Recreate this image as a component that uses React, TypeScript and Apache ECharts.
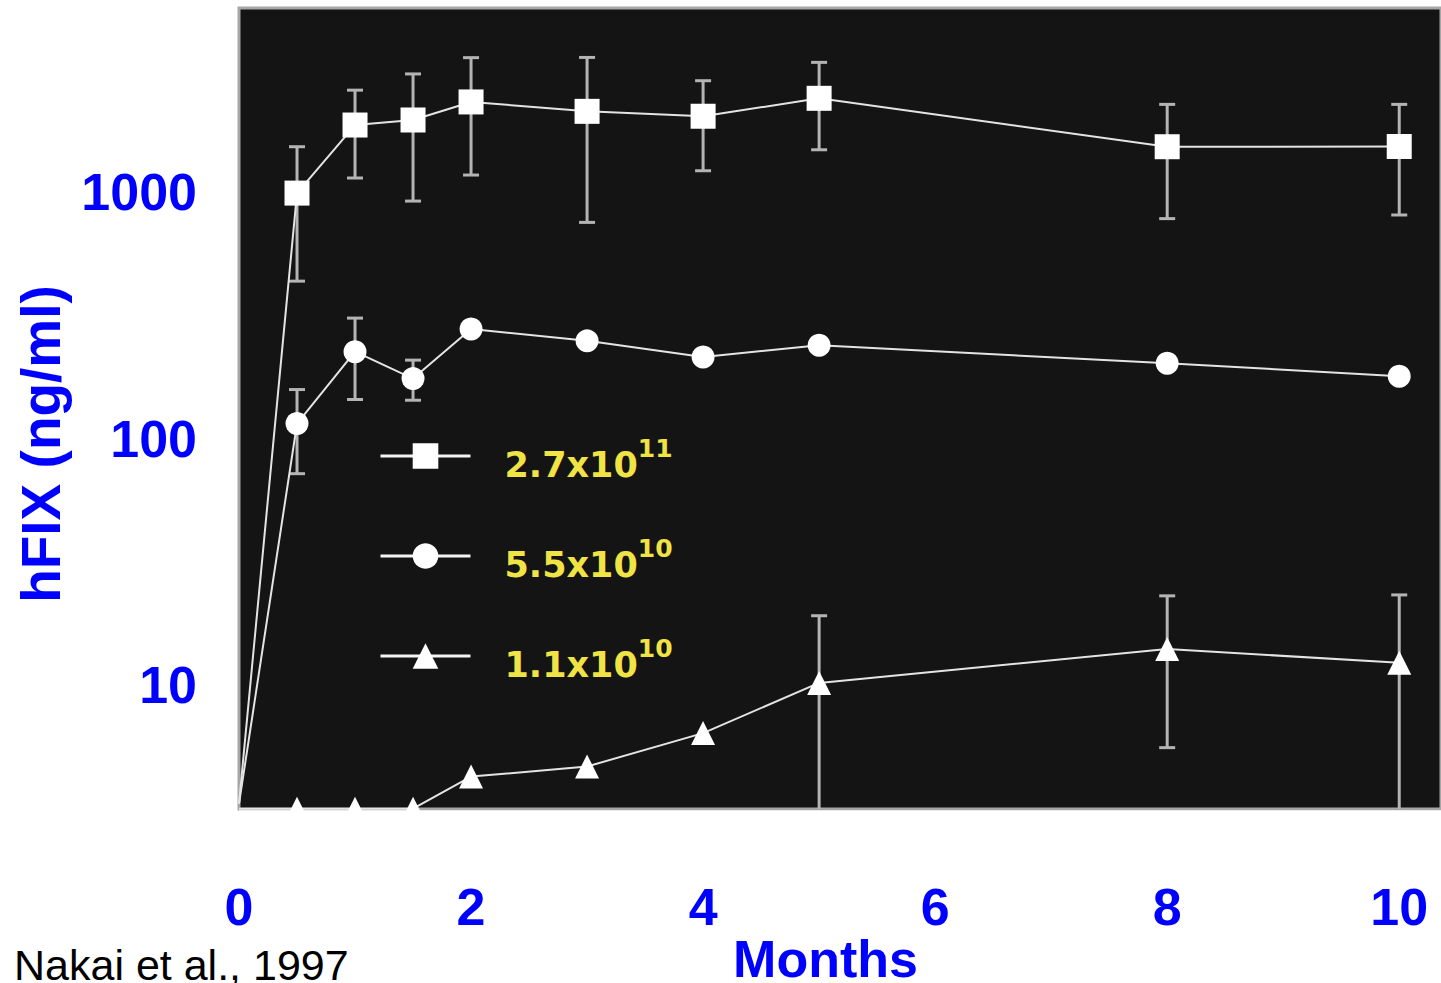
import React, { useEffect, useRef } from "react";
import * as echarts from "echarts";

// ---- data ----
const months = [0, 0.5, 1, 1.5, 2, 3, 4, 5, 8, 10];

// 2.7x10^11 (squares)
const highDose = [3.3, 990, 1870, 1960, 2320, 2125, 2030, 2400, 1527, 1530];
const highDoseErrMonths = [0.5, 1, 1.5, 2, 3, 4, 5, 8, 10];
const highDoseErrLow = [435, 1140, 919, 1172, 753, 1220, 1484, 780, 807];
const highDoseErrHigh = [1527, 2590, 3014, 3509, 3516, 2829, 3358, 2268, 2268];

// 5.5x10^10 (circles)
const midDose = [3.3, 115, 225, 175, 278, 249, 214, 239, 202, 179];
const midDoseErrMonths = [0.5, 1, 1.5];
const midDoseErrLow = [72, 144, 143];
const midDoseErrHigh = [158, 308, 208];

// 1.1x10^10 (triangles)
const lowDose = [3.15, 3.15, 3.15, 3.15, 4.25, 4.67, 6.38, 10.2, 14.0, 12.3];
const lowDoseErrMonths = [5, 8, 10];
const lowDoseErrLow = [1, 5.57, 1];
const lowDoseErrHigh = [19.1, 23.0, 23.2];

const doseBase = ["2.7x10", "5.5x10", "1.1x10"];
const doseExp = ["11", "10", "10"];
const seriesNames = doseBase.map((b, i) => b + "^" + doseExp[i]);
const symbols = ["rect", "circle", "triangle"];
const symbolSizes = [25, 23, 24];

const xTicks = [0, 2, 4, 6, 8, 10];
const yTicks = [10, 100, 1000];

const BLUE = "#0000ff";
const FONT = "'Liberation Sans', Arial, Helvetica, sans-serif";
const LEGEND_FONT = "'DejaVu Sans', 'Liberation Sans', sans-serif";

export default function App() {
  const ref = useRef<HTMLDivElement>(null);

  useEffect(() => {
    if (!ref.current) return;
    const chart = echarts.init(ref.current, undefined, { renderer: "svg" });

    const toLine = (vals: number[]) =>
      months.map((m, i) =>
        i === 0 ? { value: [m, vals[i]], symbol: "none" } : [m, vals[i]]
      );

    const errData: number[][] = [];
    const addErr = (ms: number[], lo: number[], hi: number[]) =>
      ms.forEach((m, i) => errData.push([m, lo[i], hi[i]]));
    addErr(highDoseErrMonths, highDoseErrLow, highDoseErrHigh);
    addErr(midDoseErrMonths, midDoseErrLow, midDoseErrHigh);
    addErr(lowDoseErrMonths, lowDoseErrLow, lowDoseErrHigh);

    const lineData = [highDose, midDose, lowDose];

    const option: any = {
      animation: false,
      backgroundColor: "#ffffff",
      textStyle: { fontFamily: FONT },
      grid: {
        left: 239,
        right: 0,
        top: 8,
        height: 801,
        show: true,
        backgroundColor: "#141414",
        borderColor: "#a6a6a6",
        borderWidth: 3,
        containLabel: false,
        outerBoundsMode: "none",
      },
      xAxis: {
        type: "value",
        min: 0,
        max: 10.36,
        interval: 2,
        name: "Months",
        nameLocation: "middle",
        nameGap: 128,
        nameMoveOverlap: false,
        nameTextStyle: {
          color: BLUE,
          fontSize: 52,
          lineHeight: 44,
          fontWeight: "bold",
          fontFamily: FONT,
          padding: [0, 29, 0, 0],
        },
        axisLine: { show: false },
        axisTick: { show: false },
        splitLine: { show: false },
        axisLabel: {
          margin: 72,
          color: BLUE,
          fontSize: 52,
          fontWeight: "bold",
          fontFamily: FONT,
          formatter: (v: number) => (xTicks.includes(v) ? String(v) : ""),
        },
      },
      yAxis: {
        type: "log",
        logBase: 10,
        min: 3.14,
        max: 5580,
        name: "hFIX (ng/ml)",
        nameLocation: "middle",
        nameGap: 171,
        nameMoveOverlap: false,
        nameRotate: 90,
        nameTextStyle: {
          color: BLUE,
          fontSize: 55,
          fontWeight: "bold",
          fontFamily: FONT,
          padding: [0, 71, 0, 0],
        },
        axisLine: { show: false },
        axisTick: { show: false },
        splitLine: { show: false },
        axisLabel: {
          margin: 42,
          color: BLUE,
          fontSize: 52,
          fontWeight: "bold",
          fontFamily: FONT,
          formatter: (v: number) => {
            const hit = yTicks.find((t) => Math.abs(t - v) / t < 1e-6);
            return hit ? String(hit) : "";
          },
        },
      },
      legend: seriesNames.map((n, i) => ({
        data: [n],
        left: 379,
        top: 430 + i * 100,
        orient: "vertical",
        padding: 0,
        itemWidth: 90,
        itemHeight: 32,
        selectedMode: false,
        lineStyle: { width: 3, color: "#f4f4f4" },
        itemStyle: { color: "#ffffff" },
        formatter: () => `{s| }{a|${doseBase[i]}}{b|${doseExp[i]}}`,
        textStyle: {
          color: "#f0e345",
          fontWeight: "bold",
          fontFamily: LEGEND_FONT,
          rich: {
            s: { width: 29, lineHeight: 52 },
            a: {
              fontSize: 35,
              lineHeight: 38,
              verticalAlign: "bottom",
              color: "#f0e345",
              fontWeight: "bold",
              fontFamily: LEGEND_FONT,
            },
            b: {
              fontSize: 25,
              lineHeight: 27,
              verticalAlign: "top",
              padding: [6, 0, 0, 0],
              color: "#f0e345",
              fontWeight: "bold",
              fontFamily: LEGEND_FONT,
            },
          },
        },
      })),
      series: [
        {
          type: "custom",
          name: "error bars",
          z: 1,
          data: errData,
          encode: { x: 0, y: [1, 2] },
          renderItem: (params: any, api: any) => {
            const x = api.value(0);
            const lo = api.value(1);
            const hi = api.value(2);
            const top = api.coord([x, hi]);
            const bot = api.coord([x, lo]);
            const cs = params.coordSys;
            const yMax = cs.y + cs.height;
            const clipped = bot[1] > yMax;
            const by = clipped ? yMax : bot[1];
            const hw = 8;
            const style = { stroke: "#b4b4b4", lineWidth: 3 };
            const children: any[] = [
              { type: "line", shape: { x1: top[0], y1: top[1], x2: top[0], y2: by }, style },
              { type: "line", shape: { x1: top[0] - hw, y1: top[1], x2: top[0] + hw, y2: top[1] }, style },
            ];
            if (!clipped) {
              children.push({
                type: "line",
                shape: { x1: bot[0] - hw, y1: by, x2: bot[0] + hw, y2: by },
                style,
              });
            }
            return { type: "group", children };
          },
        },
        ...seriesNames.map((n, i) => ({
          type: "line",
          name: n,
          z: 3,
          data: toLine(lineData[i]),
          symbol: symbols[i],
          symbolSize: symbolSizes[i],
          showAllSymbol: true,
          clip: true,
          itemStyle: { color: "#ffffff" },
          lineStyle: { color: "#e4e4e4", width: 2 },
        })),
      ],
      graphic: [
        {
          type: "rect",
          z: 100,
          shape: { x: 239, y: 810.5, width: 1202, height: 20 },
          style: { fill: "#ffffff" },
        },
        {
          type: "text",
          z: 100,
          x: 14,
          y: 943,
          style: {
            text: "Nakai et al., 1997",
            fill: "#000000",
            font: "43px 'Liberation Sans Narrow', 'Liberation Sans', Arial, sans-serif",
            textVerticalAlign: "top",
          },
        },
      ],
    };

    chart.setOption(option);
    return () => chart.dispose();
  }, []);

  return (
    <div
      ref={ref}
      style={{ position: "absolute", left: 0, top: 0, width: 1441, height: 983 }}
    />
  );
}
